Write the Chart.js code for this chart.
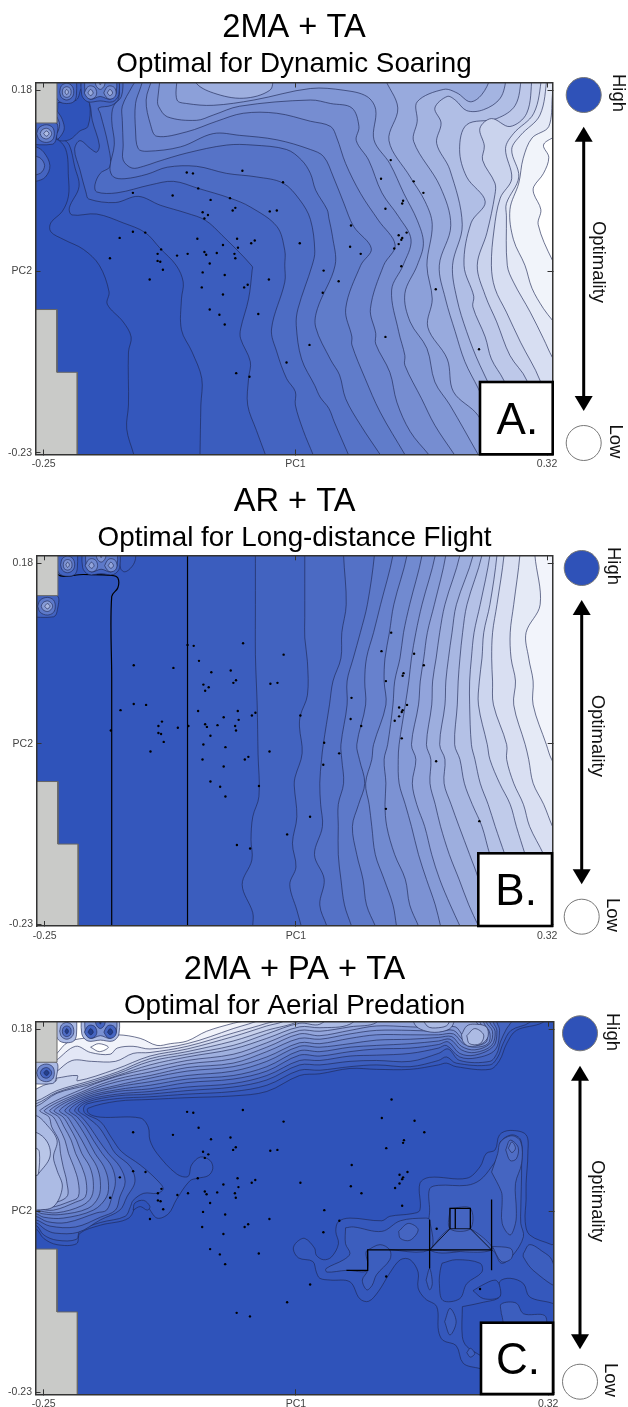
<!DOCTYPE html>
<html>
<head>
<meta charset="utf-8">
<title>Optimality landscapes</title>
<script src="https://cdn.jsdelivr.net/npm/chart.js@4/dist/chart.umd.js"></script>
<style>
  html, body { margin: 0; padding: 0; background: #fff; }
  #page { position: relative; width: 628px; height: 1407px; overflow: hidden; }
  canvas { position: absolute; left: 0; }
</style>
</head>
<body>
<div id="page">
  <canvas id="panelA" width="628" height="478" style="top:0"></canvas>
  <canvas id="panelB" width="628" height="469" style="top:478px"></canvas>
  <canvas id="panelC" width="628" height="480" style="top:947px"></canvas>
</div>
<script>
// all PC values below are PC score x 1000
const xTickValues = [-250, 35, 320]
const xTickLabels = ['-0.25', 'PC1', '0.32']
const yTickValues = [180, -25, -230]
const yTickLabels = ['0.18', 'PC2', '-0.23']

// specimens, same in the three panels
const specimenPC1 = [-88,-81,-25,21,-149,-104,-75,-61,-39,-33,-36,6,14,-70,-64,-68,-164,-149,-135,-76,-31,-11,-15,40,-47,-30,-117,-121,-99,-87,-68,-66,-54,-34,-33,-175,-121,-118,-62,-115,-130,-70,-45,5,-19,-23,-71,-47,-62,-51,-7,-45,51,25,-32,-17,143,132,169,180,157,156,137,98,161,152,156,155,152,147,97,109,155,67,84,66,194,137,243]
const specimenPC2 = [87,86,89,76,64,61,69,56,58,47,44,43,44,42,39,35,13,20,19,12,12,10,7,7,5,2,0,-5,-7,-5,-3,-6,-4,-5,-10,-10,-13,-14,-16,-23,-34,-26,-29,-34,-40,-43,-43,-51,-68,-74,-73,-85,-108,-128,-140,-144,101,80,77,64,55,52,46,27,19,16,13,11,6,1,3,-5,-19,-24,-36,-49,-45,-99,-113]

// no-data blocks, left edge of every panel
const greyTop = [-270,143,-235,143,-235,205,-270,205]
const greyBottom = [-270,-68,-235,-68,-235,-139,-212,-139,-212,-250,-270,-250]

// ringed bumps in the top left corner, outer ring first
const cornerRings = [
  [-236,205,-236,174,-232,167,-224,165,-216,167,-213,174,-213,205],
  [-232,178,-230,172,-224,169,-218,172,-216,178,-218,185,-224,188,-230,185,-232,178],
  [-229,178,-228,174,-224,172,-220,174,-219,178,-220,182,-224,184,-228,182,-229,178],
  [-226,178,-224,175,-222,178,-224,181,-226,178],
  [-207,205,-207,175,-200,167,-186,168,-172,167,-165,175,-165,205],
  [-203,205,-203,177,-197,170,-186,173,-175,170,-168,177,-168,205],
  [-204,177,-201,172,-197,170,-192,172,-190,177,-192,183,-197,185,-201,183,-204,177],
  [-200,177,-197,174,-194,177,-197,181,-200,177],
  [-182,177,-179,172,-175,170,-170,172,-168,177,-170,183,-175,185,-179,183,-182,177],
  [-178,177,-175,174,-172,177,-175,181,-178,177],
  [-193,205,-191,186,-186,181,-181,186,-179,205],
  [-189,205,-186,186,-183,205],
  [-270,143,-236,143,-236,125,-240,119,-270,119],
  [-258,131,-255,138,-247,141,-240,138,-238,131,-240,124,-247,121,-255,124,-258,131],
  [-254,131,-252,135,-247,137,-243,135,-241,131,-243,127,-247,125,-252,127,-254,131],
  [-250,131,-247,134,-244,131,-247,128,-250,131]
]
const cornerLevelsLight = [3,6,9,12,3,6,8,11,8,11,9,13,3,6,10,13]
const cornerLevelsDark = [12,8,4,-1,12,8,3,-1,3,-1,3,-1,12,7,3,-1]

// panel A contours, bottom edge to top edge, light side on the right
const contoursA = [
  [-148,-232,-156,-203,-154,-176,-154,-116,-151,-99,-160,-82,-178,-62,-176,-48,-187,-18,-205,0,-227,11,-242,20,-242,30,-229,43,-222,60,-222,82,-225,113,-237,125,-259,119,-275,120],
  [-73,-232,-72,-176,-71,-146,-82,-116,-94,-91,-94,-56,-92,-37,-100,-18,-118,1,-135,19,-160,30,-190,40,-218,39,-221,47,-210,71,-215,94,-221,118,-229,125,-237,126,-259,122,-275,122],
  [1,-232,-9,-205,-19,-176,-18,-146,-16,-127,-27,-101,-27,-90,-18,-56,-14,-24,-14,-19,-48,16,-67,33,-88,41,-118,50,-143,60,-169,53,-199,57,-202,64,-209,90,-215,113,-209,123,-197,114,-190,110,-187,118,-195,146,-198,165,-207,182,-207,195],
  [55,-232,44,-205,35,-176,35,-161,25,-146,14,-116,8,-90,23,-37,23,-18,23,-1,14,26,-16,48,-39,58,-75,69,-103,77,-129,73,-167,64,-190,65,-192,73,-186,86,-175,94,-177,118,-186,154,-188,160,-173,163,-165,171,-165,195],
  [95,-232,79,-195,73,-180,63,-167,57,-154,42,-124,36,-86,38,-67,54,-18,57,-2,52,34,40,56,21,75,-9,82,-43,86,-77,94,-110,93,-133,85,-158,80,-171,82,-175,92,-170,119,-173,146,-171,162,-162,173,-160,195],
  [131,-232,109,-199,92,-169,85,-142,75,-125,58,-88,60,-67,80,-18,77,15,73,35,71,45,58,67,52,86,42,101,25,113,-13,118,-43,118,-88,109,-122,99,-137,94,-150,92,-160,101,-160,118,-161,146,-161,162,-150,184,-144,195],
  [159,-232,131,-184,114,-146,99,-108,99,-99,92,-67,109,-18,121,1,101,26,90,52,78,82,67,105,52,113,14,124,-28,129,-58,131,-95,116,-133,111,-143,114,-146,135,-146,165,-140,184,-137,195],
  [186,-232,165,-206,150,-173,142,-139,126,-107,126,-95,120,-67,135,-18,148,5,129,33,109,63,92,97,82,126,75,139,52,145,14,154,-24,154,-54,145,-88,133,-122,128,-129,141,-134,169,-127,195],
  [215,-232,193,-199,178,-169,159,-131,159,-120,152,-93,144,-46,157,-18,166,11,152,37,133,64,118,101,104,123,107,139,99,160,75,165,52,169,-28,162,-58,152,-77,146,-110,150,-120,162,-121,169,-118,195],
  [242,-232,210,-176,193,-150,184,-112,165,-82,159,-50,173,-18,180,7,173,33,158,63,142,97,124,124,126,158,116,173,90,180,52,182,-12,169,-58,163,-88,165,-99,169,-99,195],
  [263,-232,242,-188,214,-161,207,-124,185,-88,190,-56,184,-18,190,28,182,54,165,82,141,123,151,160,136,195],
  [278,-232,242,-157,227,-127,216,-93,205,-56,198,-18,211,27,199,71,169,122,173,145,173,167,203,181,218,177,233,167,246,175,256,195],
  [293,-232,244,-131,229,-93,218,-56,213,-18,224,28,210,90,195,120,200,143,193,160,207,173,216,169,229,157,248,158,267,171,274,195],
  [308,-232,271,-148,257,-124,250,-99,236,-65,237,-53,226,-18,234,30,250,54,229,82,221,113,229,141,263,148,284,163,291,195],
  [323,-232,297,-148,278,-120,263,-82,250,-52,241,-18,252,19,261,62,261,75,247,101,249,117,244,137,257,148,278,139,297,154,303,195],
  [339,-232,312,-148,290,-105,274,-71,261,-44,257,-18,260,22,267,58,280,80,273,114,282,131,305,154,314,195],
  [354,-169,326,-122,316,-101,301,-71,282,-37,275,-18,274,38,274,52,288,82,280,113,290,129,312,152,320,195],
  [354,-116,326,-80,316,-67,303,-44,295,-18,282,11,278,45,288,75,293,103,303,126,322,139,326,173,327,195],
  [339,-31,326,-12,310,28,313,45,305,63,305,71,316,86,322,104,316,118,326,126,339,131]
]
// closed pieces of panel A: dark pocket, top patch, left rings
const pocketA = [-234,166,-213,169,-207,182,-198,165,-200,139,-209,134,-221,124,-234,125,-234,166]
const topPatchA = [-78,205,-78,189,-58,177,-24,171,6,180,10,195,10,205]
const leftRingsA = [
  [-270,116,-259,116,-250,110,-243,95,-248,82,-259,77,-270,77],
  [-270,106,-255,104,-249,95,-254,86,-270,83],
  [-235,157,-229,147,-227,135,-235,125,-235,157],
  [-235,150,-232,141,-235,132,-235,150]
]

// panel B, first contours with their own wiggles
const contoursLeftB = [
  [-174,-232,-174,-100,-174,50,-174,142,-167,152,-167,163,-174,166,-206,167,-235,167,-235,195],
  [-88,-232,-88,-100,-88,50,-88,195],
  [-14,-232,-14,-217,-26,-185,-15,-157,-16,-134,-14,-108,-7,-85,-8,-37,-9,19,-10,46,-11,76,-11,133,-11,195],
  [41,-232,36,-214,28,-185,35,-165,31,-138,36,-108,33,-72,34,-63,42,-36,39,-6,40,7,48,30,48,68,45,95,45,118,45,195]
]
const topLoopB = [-165,205,-165,189,-164,174,-159,170,-151,176,-147,185,-147,205]
// the other contours of panel B: PC1 at each PC2 row
const rowsB = [189,133,101,72,46,19,-26,-43,-70,-94,-119,-151,-179,-208,-232]
const contoursRightB = [
  [89,92,87,86,77,73,66,64,62,63,65,56,67,62,70],
  [124,116,108,100,93,93,86,87,89,83,83,83,86,90,98],
  [145,131,123,115,113,114,104,107,113,106,99,104,111,115,125],
  [161,146,141,136,135,137,123,121,114,118,121,125,135,145,149],
  [178,164,157,153,147,145,139,135,137,136,138,147,159,164,174],
  [193,178,171,166,163,159,152,151,152,159,166,174,183,193,199],
  [205,192,184,180,176,174,166,171,167,172,181,189,198,210,221],
  [221,204,198,194,190,189,183,188,187,193,199,209,220,231,242],
  [236,217,212,208,205,204,198,204,203,211,220,232,242,248,255],
  [246,229,224,221,219,218,215,221,226,235,246,255,266,274,282],
  [255,244,237,234,232,232,234,238,244,253,261,272,282,293,300],
  [263,255,248,246,243,242,252,255,266,278,285,295,304,316,323],
  [271,263,258,257,258,259,274,274,282,293,300,316,327,338,350],
  [289,282,278,279,284,282,295,299,304,316,326,342,353,365,376],
  [306,312,296,299,304,304,319,325,342,357,372,387,400,410,420]
]

// panel C, the long band: PC2 per contour at each PC1 column
const bandColsC = [-167,-130,-88,-36,2,39,62,96,126,164,196]
const bandRowsC = [
  [99,101,103,105,110,128,130,136,135,135,140],
  [102,104,107,110,117,134,134,138,140,138,145],
  [105,107,111,115,123,140,140,144,145,144,153],
  [107,110,115,119,128,145,145,150,151,153,159],
  [110,113,120,124,133,151,150,155,158,159,163],
  [112,117,124,128,138,156,155,160,162,164,167],
  [115,121,128,133,144,161,160,164,168,169,171],
  [117,125,133,138,149,165,164,170,174,174,174],
  [121,128,137,142,155,170,169,175,179,179,178],
  [124,132,141,147,160,175,173,179,184,183,182],
  [127,136,145,152,165,179,178,183,188],
  [128,140,149,158,170,183,182,186],
  [130,144,152,162,175,187,186],
  [132,147,155,167,179,190]
]
// what each band contour does left of the first column
const bandLeftC = [
  [-275,-45,-259,-45,-250,-56,-235,-63,-213,-62,-209,-50,-186,-41,-154,-33,-143,-14,-133,-20,-122,-33,-109,-28,-100,-12,-85,9,-76,12,-64,15,-59,23,-62,32,-73,36,-83,27,-87,14,-100,17,-122,40,-130,55,-132,70,-141,80,-186,81,-199,85,-200,91],
  [-275,-41,-259,-41,-250,-52,-235,-58,-213,-57,-209,-47,-186,-38,-158,-31,-152,-20,-149,-13,-137,-5,-122,-5,-115,0,-122,10,-141,27,-162,42,-173,57,-186,76,-203,85,-205,91,-201,96],
  [-275,-38,-259,-38,-248,-46,-237,-50,-211,-49,-186,-35,-164,-24,-156,-9,-147,8,-152,25,-169,40,-178,55,-188,70,-201,81,-211,89,-201,98],
  [-275,-35,-259,-35,-243,-42,-214,-43,-186,-32,-169,-24,-164,-9,-158,8,-164,25,-177,40,-188,55,-198,70,-207,81,-215,89,-201,100],
  [-275,-31,-259,-31,-246,-37,-224,-38,-190,-27,-179,-24,-173,-9,-169,8,-173,25,-184,40,-194,55,-203,70,-212,81,-221,89,-201,102],
  [-275,-28,-259,-28,-250,-32,-228,-33,-194,-24,-179,-9,-177,8,-182,25,-192,40,-200,55,-209,70,-217,81,-226,89,-201,104],
  [-275,-25,-259,-25,-252,-28,-231,-29,-200,-22,-188,-9,-186,8,-190,25,-199,40,-207,55,-216,70,-223,81,-232,89,-201,106],
  [-275,-23,-259,-23,-254,-25,-235,-27,-207,-19,-196,-9,-194,8,-198,25,-207,40,-213,55,-221,70,-228,81,-238,89,-201,108],
  [-275,-20,-259,-20,-256,-22,-239,-24,-214,-15,-203,-9,-202,8,-207,25,-214,40,-219,55,-227,70,-233,81,-243,89,-201,110],
  [-275,-18,-259,-18,-243,-21,-220,-14,-211,-9,-211,8,-216,25,-222,40,-226,55,-233,70,-239,81,-249,89,-201,112],
  [-275,-15,-259,-15,-246,-17,-224,-9,-224,8,-228,25,-231,40,-233,55,-241,70,-244,81,-254,89,-201,115],
  [-275,93,-259,93,-235,108,-201,117],
  [-275,96,-259,96,-235,109,-201,119],
  [-275,99,-259,99,-235,111,-201,121]
]
// and right of the last column
const bandRightC = [
  [205,142,216,138,254,135,265,145,273,164,284,179,314,188,330,205],
  [205,149,216,142,254,140,263,149,269,164,278,179,299,188,310,205],
  [207,158,220,145,254,144,262,153,266,166,273,181,278,188,285,205],
  [205,162,220,149,239,148,260,157,265,179,262,188,258,205],
  [207,166,220,153,237,151,258,161,262,179,258,188,255,205],
  [209,169,222,157,237,154,256,162,260,178,254,188,250,205],
  [211,172,222,161,237,157,254,164,257,178,250,188,246,205],
  [213,175,224,164,237,160,252,164,254,176,247,188,243,205],
  [213,179,224,168,237,162,250,166,250,176,243,188,240,205],
  [215,183,224,173,237,165,247,170,247,179,239,188,235,205],
  [130,205],
  [110,205],
  [80,205],
  [50,205]
]
// palest part of the band, top left
const paleBandC = [
  [-236,125,-212,128,-212,122,-169,135,-130,150,-88,158,-36,172,2,184,24,191,30,205,-240,205],
  [-236,132,-218,145,-196,144,-169,144,-149,153,-130,154,-88,161,-36,176,2,187,13,191,20,205,-240,205],
  [-236,145,-214,161,-197,154,-175,152,-167,159,-149,161,-130,158,-88,164,-36,181,-2,193,5,205,-240,205],
  [-236,152,-222,166,-197,171,-167,174,-141,170,-122,162,-107,164,-88,167,-66,178,-36,187,-13,193,-5,205,-240,205]
]
const paleEyeC = [-197,160,-188,164,-177,160,-187,155,-197,160]
const paleWedgeC = [-260,112,-250,117,-236,122,-236,125,-260,125,-260,112]
// left lobe centre, and the dark spot under it
const lobeC = [
  [-275,83,-259,83,-248,74,-235,55,-239,36,-235,21,-229,2,-239,-20,-259,-24,-275,-24],
  [-275,64,-259,64,-246,53,-243,36,-256,17,-259,15,-275,15],
  [-275,46,-259,46,-255,42,-256,17,-259,15,-275,15]
]
const darkSpotC = [-149,-24,-147,-16,-137,-13,-130,-20,-133,-24,-141,-20,-149,-24]
// peak and shoulder at the top right
const peakC = [
  [222,174,228,184,237,186,250,183,252,172,245,164,231,161,224,166,222,174],
  [228,173,237,181,247,174,243,164,231,164,228,173]
]
const shoulderC = [
  [164,205,169,186,179,179,196,177,211,183,216,205],
  [173,205,183,184,196,182,207,186,211,205]
]
// lower right patches of panel C
const patchOuterC = [324,-63,299,-52,294,-37,295,-12,295,6,297,40,295,61,277,66,265,61,260,44,250,40,243,25,228,12,186,13,175,6,175,-24,166,-28,141,-31,132,-36,96,-33,83,-37,80,-48,83,-62,75,-77,66,-80,58,-75,56,-67,45,-56,36,-60,32,-68,38,-78,54,-82,58,-94,62,-101,74,-103,96,-105,107,-124,117,-127,128,-116,141,-95,153,-80,164,-80,173,-94,173,-112,181,-124,194,-133,196,-160,201,-171,216,-177,224,-197,243,-203,262,-209,340,-209,340,-63,324,-63]
const patchHolesC = [
  [200,-84,216,-80,243,-84,245,-94,228,-107,220,-124,201,-126,197,-107,198,-92,200,-84],
  [223,-133,223,-167,228,-178,243,-188,262,-201,340,-201,340,-136,324,-129,299,-122,292,-107,277,-101,265,-105,265,-122,247,-128,223,-133],
  [235,-115,245,-109,260,-103,265,-109,265,-122,247,-124,235,-115]
]
const patchInnerC = [
  [186,-24,186,0,196,4,228,4,243,10,256,25,265,40,266,53,279,61,289,55,290,29,289,-24,289,-39,292,-54,280,-75,267,-84,256,-69,186,-69,186,-24],
  [91,-44,100,-43,132,-48,153,-36,181,-33,186,-35,186,-69,116,-69,116,-92,92,-92,70,-94,69,-90,89,-80,96,-73,91,-62,91,-44],
  [116,-69,130,-63,141,-69,141,-80,126,-97,121,-109,115,-114,110,-103,116,-92,116,-69],
  [203,-150,209,-135,216,-150,209,-165,203,-150],
  [228,-185,232,-180,237,-186,232,-190,228,-185],
  [292,-73,299,-63,314,-71,324,-80,331,-110,303,-92,292,-77,292,-73],
  [182,-103,186,-90,189,-107,186,-114,182,-103],
  [267,-141,267,-130,284,-129,292,-141,316,-143,316,-156,273,-156,267,-141]
]
const patchTopC = [
  [186,-69,209,-45,232,-45,256,-69,186,-69],
  [209,-22,232,-22,232,-45,209,-45,209,-22],
  [256,19,263,40,266,53,279,60,289,53,290,29,283,6,284,-24,283,-39,277,-52,268,-39,268,-12,267,-3,256,19],
  [151,-48,162,-39,173,-46,164,-58,153,-56,151,-48],
  [257,-65,277,-67,280,-73,277,-80,267,-82,257,-65],
  [272,44,277,55,286,47,284,34,277,32,272,44],
  [275,46,279,53,283,46,279,41,275,46]
]
const ruledLinesC = [
  [92,-92,116,-92,116,-69,256,-69,256,-12],
  [186,-35,186,-90],
  [256,-69,256,-92],
  [186,-69,209,-45,232,-45,256,-69],
  [209,-45,209,-22,232,-22,232,-45],
  [215,-22,215,-45]
]

const toPoints = flat => {
  const pts = []
  for (let i = 0; i < flat.length; i += 2) pts.push({ x: flat[i] / 1000, y: flat[i + 1] / 1000 })
  return pts
}
const shade = (level, top) => {
  if (level < 0) return '#233f8e'
  const t = Math.pow(Math.min(level / top, 1), 1.25)
  const mix = (a, b) => Math.round(a + (b - a) * t)
  return `rgb(${mix(47, 255)},${mix(83, 255)},${mix(186, 255)})`
}
const lineColor = 'rgba(30,40,84,.8)'
const area = (flat, level, top, extra) => Object.assign({
  data: toPoints(flat), showLine: true, pointRadius: 0, fill: 'shape', tension: 0.35,
  backgroundColor: shade(level, top), borderColor: lineColor, borderWidth: 0.8
}, extra)
const ruled = (flat, width) => ({
  data: toPoints(flat), showLine: true, pointRadius: 0, fill: false, tension: 0,
  borderColor: '#000', borderWidth: width
})
// close an open contour round the right side of the plot
const closeRight = flat => flat.concat([flat[flat.length - 2], 210, 360, 210, 360, -250, flat[0], -250])
const closeTopLeft = flat => flat.concat([-275, 210])

const commonLayers = (levels, top) => {
  const sets = cornerRings.map((r, i) => area(r, levels[i], top))
  const grey = { backgroundColor: '#c9cac8', borderColor: '#666', borderWidth: 1, tension: 0 }
  sets.push(area(greyTop, 0, top, grey), area(greyBottom, 0, top, grey))
  sets.push({
    data: specimenPC1.map((v, i) => ({ x: v / 1000, y: specimenPC2[i] / 1000 })),
    showLine: false, pointRadius: 1.2, pointBackgroundColor: '#000', pointBorderWidth: 0
  })
  return sets
}

// panel A
const layersA = []
contoursA.forEach((c, i) => {
  layersA.push(area(closeRight(c), i + 1, 19))
  if (i === 1) {
    layersA.push(area(pocketA, 0, 19))
    leftRingsA.forEach((r, k) => layersA.push(area(r, [3, 5, 3, 5][k], 19)))
  }
  if (i === 10) layersA.push(area(topPatchA, 11.5, 19))
})
layersA.push(...commonLayers(cornerLevelsLight, 19))

// panel B
const layersB = []
contoursLeftB.forEach((c, i) => {
  const black = i < 2 ? { borderColor: '#000', borderWidth: 1.2 } : {}
  layersB.push(area(closeRight(c), i + 1, 20, black))
  if (i === 0) layersB.push(area(topLoopB, 1.6, 20))
})
contoursRightB.forEach((c, i) => {
  const flat = []
  for (let r = c.length - 1; r >= 0; r--) flat.push(c[r], rowsB[r])
  layersB.push(area(closeRight(flat), i + 5, 20))
})
layersB.push(...commonLayers(cornerLevelsLight, 20))

// panel C
const layersC = []
bandRowsC.forEach((row, i) => {
  const flat = bandLeftC[i].slice()
  row.forEach((y, c) => flat.push(bandColsC[c], y))
  layersC.push(area(closeTopLeft(flat.concat(bandRightC[i])), i + 1, 18))
})
paleBandC.forEach((c, i) => layersC.push(area(c, i + 15, 18)))
layersC.push(area(paleEyeC, 18, 18), area(paleWedgeC, 18, 18))
lobeC.forEach((c, i) => layersC.push(area(c, i + 12, 18)))
peakC.forEach((c, i) => layersC.push(area(c, i + 11, 18)))
shoulderC.forEach((c, i) => layersC.push(area(c, i + 11, 18)))
layersC.push(area(darkSpotC, 0, 18))
layersC.push(area(patchOuterC, 1, 18))
patchHolesC.forEach(c => layersC.push(area(c, 0, 18)))
patchInnerC.forEach(c => layersC.push(area(c, 2, 18)))
patchTopC.forEach((c, i) => layersC.push(area(c, i > 4 ? i - 1 : 3, 18)))
ruledLinesC.forEach((c, i) => layersC.push(ruled(c, i === 3 ? 0.8 : 1.3)))
layersC.push(...commonLayers(cornerLevelsDark, 18))

// plot background, side key and the lettered box
const panelKey = {
  id: 'panelKey',
  beforeDatasetsDraw(chart) {
    const a = chart.chartArea
    chart.ctx.fillStyle = shade(0, 1)
    chart.ctx.fillRect(a.left, a.top, a.right - a.left, a.bottom - a.top)
  },
  afterDraw(chart, args, o) {
    const ctx = chart.ctx
    ctx.save()
    ctx.fillStyle = '#2f52b8'
    ctx.strokeStyle = '#777'
    ctx.lineWidth = 1
    ctx.beginPath(); ctx.arc(o.keyX, o.highY, 17.5, 0, Math.PI * 2); ctx.fill(); ctx.stroke()
    ctx.fillStyle = '#fff'
    ctx.beginPath(); ctx.arc(o.keyX, o.lowY, 17.5, 0, Math.PI * 2); ctx.fill(); ctx.stroke()
    ctx.strokeStyle = '#000'
    ctx.lineWidth = 3
    ctx.beginPath(); ctx.moveTo(o.keyX, o.arrowTop + 12); ctx.lineTo(o.keyX, o.arrowBottom - 12); ctx.stroke()
    ctx.fillStyle = '#000'
    ctx.beginPath(); ctx.moveTo(o.keyX, o.arrowTop); ctx.lineTo(o.keyX - 9, o.arrowTop + 15); ctx.lineTo(o.keyX + 9, o.arrowTop + 15); ctx.fill()
    ctx.beginPath(); ctx.moveTo(o.keyX, o.arrowBottom); ctx.lineTo(o.keyX - 9, o.arrowBottom - 15); ctx.lineTo(o.keyX + 9, o.arrowBottom - 15); ctx.fill()
    ctx.fillStyle = '#111'
    ctx.font = '18.5px "Liberation Sans"'
    ctx.textAlign = 'center'
    ctx.textBaseline = 'middle'
    o.words.forEach(w => {
      ctx.save()
      ctx.translate(w[1], w[2])
      ctx.rotate(Math.PI / 2)
      ctx.fillText(w[0], 0, 0)
      ctx.restore()
    })
    const b = o.box
    ctx.fillStyle = '#fff'
    ctx.strokeStyle = '#000'
    ctx.lineWidth = 2.6
    ctx.fillRect(b[0], b[1], b[2] - b[0], b[3] - b[1])
    ctx.strokeRect(b[0], b[1], b[2] - b[0], b[3] - b[1])
    ctx.fillStyle = '#000'
    ctx.font = '44px "Liberation Sans"'
    ctx.textBaseline = 'alphabetic'
    ctx.fillText(o.letter, (b[0] + b[2]) / 2 + 1, o.letterY)
    ctx.restore()
  }
}

const scaleFont = { family: '"Liberation Sans"', size: 10.5 }
const axis = (values, labels, min, max, fitSize, show, position) => ({
  type: 'linear', position, min, max,
  afterBuildTicks: s => { s.ticks = values.map(v => ({ value: v / 1000 })) },
  afterFit: s => { if (position === 'left' || position === 'right') s.width = fitSize; else s.height = fitSize },
  ticks: {
    display: show, autoSkip: false, maxRotation: 0, color: '#444', font: scaleFont, padding: 8.5,
    callback: (v, i) => labels[i]
  },
  grid: { drawOnChartArea: false, drawTicks: true, tickLength: -5, color: '#333', z: 1 },
  border: { display: true, color: '#333', width: 1.5, z: 1 }
})

const panel = (id, layers, p) => {
  layers.forEach((d, i) => { d.order = -i })
  new Chart(document.getElementById(id), {
    type: 'scatter',
    data: { datasets: layers },
    plugins: [panelKey],
    options: {
      responsive: false, animation: false, devicePixelRatio: 1, events: [],
      layout: { padding: { left: 0, right: 628 - p.right, top: 0, bottom: 0 } },
      scales: {
        x: axis(xTickValues, xTickLabels, -0.2593, 0.3262, p.under, true, 'bottom'),
        y: axis(yTickValues, yTickLabels, -0.232, 0.1888, p.left, true, 'left'),
        x2: axis(xTickValues, xTickLabels, -0.2593, 0.3262, 0, false, 'top'),
        y2: axis(yTickValues, yTickLabels, -0.232, 0.1888, 0, false, 'right')
      },
      plugins: {
        legend: { display: false },
        tooltip: { enabled: false },
        title: {
          display: true, text: p.title, color: '#000', fullSize: false,
          font: { family: '"Liberation Sans"', size: 32.6, weight: 'normal', lineHeight: 1 },
          padding: { top: p.pads[0], bottom: 0 }
        },
        subtitle: {
          display: true, text: p.subtitle, color: '#000', fullSize: false,
          font: { family: '"Liberation Sans"', size: 27.8, weight: 'normal', lineHeight: 1 },
          padding: { top: p.pads[1], bottom: p.pads[2] }
        },
        panelKey: p.key
      }
    }
  })
}

panel('panelA', layersA, {
  title: '2MA + TA', subtitle: 'Optimal for Dynamic Soaring',
  pads: [12, 5.5, 4.6], left: 35.5, right: 552.5, under: 478 - 454.5,
  key: { keyX: 583.7, highY: 95, lowY: 443, arrowTop: 126.7, arrowBottom: 411,
    words: [['High', 618, 93], ['Optimality', 598, 262], ['Low', 615, 441.5]],
    box: [480, 382, 552.7, 454.3], letter: 'A.', letterY: 434 }
})
panel('panelB', layersB, {
  title: 'AR + TA', subtitle: 'Optimal for Long-distance Flight',
  pads: [8, 6.25, 2.65], left: 36.5, right: 552.7, under: 469 - (926 - 478),
  key: { keyX: 581.7, highY: 568 - 478, lowY: 916.7 - 478, arrowTop: 600 - 478, arrowBottom: 884.3 - 478,
    words: [['High', 613.3, 566 - 478], ['Optimality', 596.7, 735.8 - 478], ['Low', 611.7, 915 - 478]],
    box: [478.3, 853.3 - 478, 552, 926 - 478], letter: 'B.', letterY: 905 - 478 }
})
panel('panelC', layersC, {
  title: '2MA + PA + TA', subtitle: 'Optimal for Aerial Predation',
  pads: [7, 6.25, 1.05], left: 35.5, right: 553.7, under: 480 - (1394.3 - 947),
  key: { keyX: 580, highY: 1033.3 - 947, lowY: 1381.7 - 947, arrowTop: 1065.7 - 947, arrowBottom: 1349.3 - 947,
    words: [['High', 611.7, 1032 - 947], ['Optimality', 596.7, 1201 - 947], ['Low', 610, 1380 - 947]],
    box: [481, 1322.7 - 947, 553, 1394 - 947], letter: 'C.', letterY: 1374.3 - 947 }
})
</script>
</body>
</html>
